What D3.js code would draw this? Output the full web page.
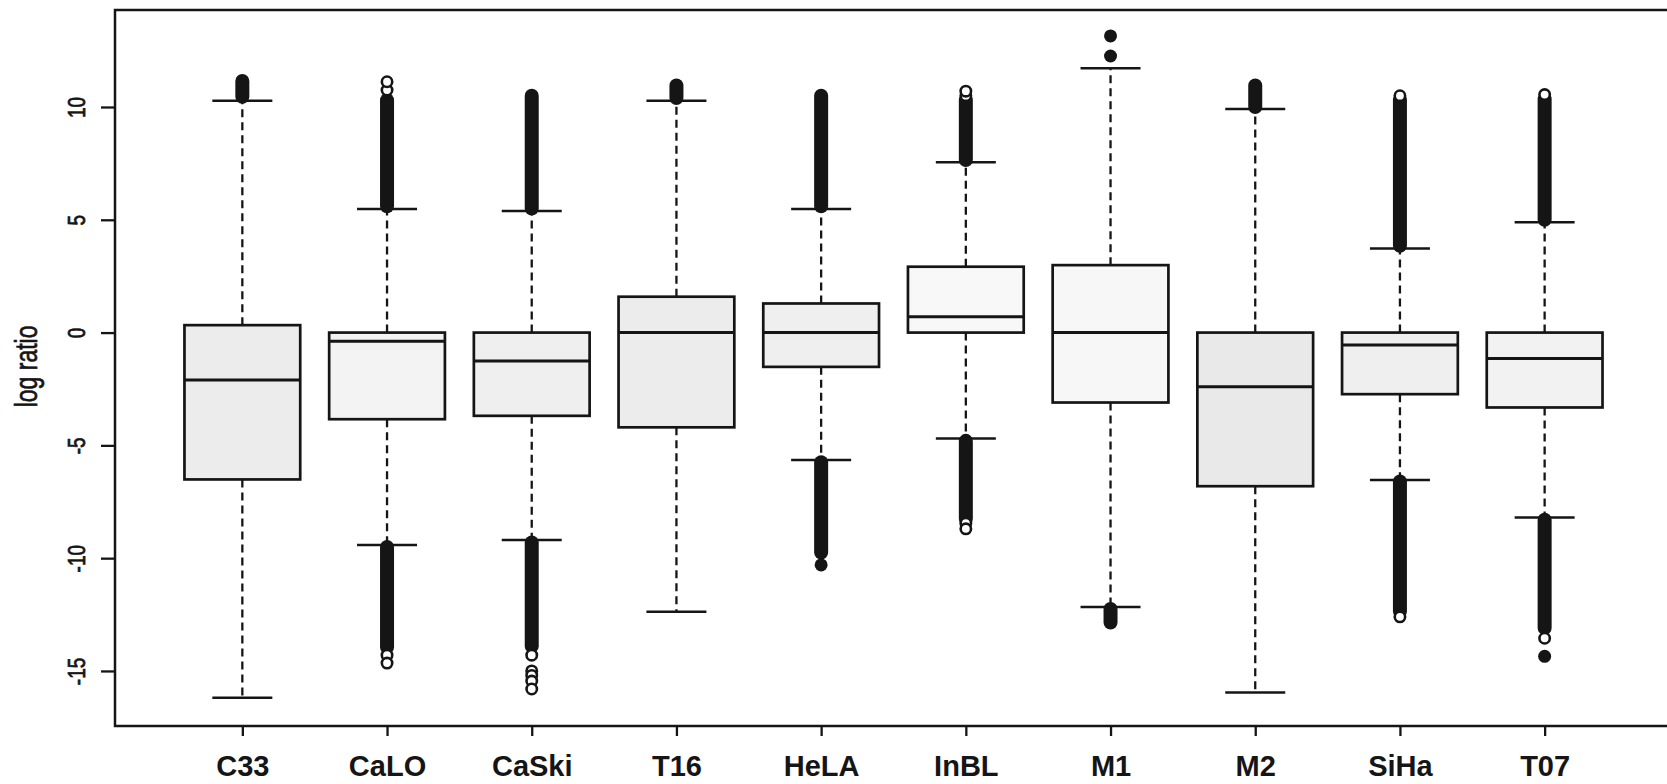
<!DOCTYPE html>
<html>
<head>
<meta charset="utf-8">
<script src="https://cdnjs.cloudflare.com/ajax/libs/d3/7.8.5/d3.min.js"></script>
<style>
  html, body { margin: 0; padding: 0; background: #fff; }
  svg { display: block; font-family: "Liberation Sans", Arial, sans-serif; }
</style>
</head>
<body>
<div id="chart"></div>
<script>
// cell lines and the five box statistics
const cellLines = ['C33', 'CaLO', 'CaSki', 'T16', 'HeLA', 'InBL', 'M1', 'M2', 'SiHa', 'T07'];
const lowerWhisker = [-16.19, -9.42, -9.2, -12.38, -5.65, -4.69, -12.16, -15.96, -6.54, -8.2];
const lowerHinge = [-6.51, -3.84, -3.69, -4.2, -1.52, 0, -3.1, -6.81, -2.73, -3.32];
const medians = [-2.1, -0.38, -1.26, 0, 0, 0.7, 0, -2.4, -0.55, -1.15];
const upperHinge = [0.33, 0, 0, 1.59, 1.29, 2.92, 2.99, 0, 0, 0];
const upperWhisker = [10.28, 5.48, 5.39, 10.28, 5.48, 7.55, 11.72, 9.91, 3.73, 4.89];

// outliers: dense runs (overlapping circles) as [from, to], then single circles
const outlierRuns = [
  [[10.45, 11.15]],
  [[5.6, 10.3], [-13.95, -9.5]],
  [[5.5, 10.5], [-13.9, -9.3]],
  [[10.4, 10.95]],
  [[5.6, 10.5], [-9.75, -5.75]],
  [[7.65, 10.3], [-8.25, -4.8]],
  [[-12.85, -12.25]],
  [[10.0, 10.95]],
  [[3.85, 10.3], [-12.35, -6.6]],
  [[5.0, 10.35], [-13.1, -8.3]]
];
const outlierPoints = [
  [],
  [10.75, 11.12, -14.3, -14.65],
  [-14.3, -15.0, -15.2, -15.45, -15.8],
  [],
  [],
  [10.5, 10.7, -8.45, -8.7],
  [],
  [],
  [10.5, -12.6],
  [10.55, -13.55]
];
const outlierDots = [
  [], [], [], [], [-10.3], [], [12.26, 13.15], [], [], [-14.35]
];

const yTicks = [-15, -10, -5, 0, 5, 10];
const yLabel = 'log ratio';

// box fill per cell line
const boxFills = ['#ececec', '#f3f3f3', '#efefef', '#ececec', '#efefef',
                  '#f8f8f8', '#f7f7f7', '#e9e9e9', '#efefef', '#f2f2f2'];

const W = 1667, H = 784;
const margin = {top: 10, left: 115, bottom: 58};
const step = 144.7;

const svg = d3.select('#chart').append('svg')
  .attr('width', W)
  .attr('height', H);

const x = d3.scaleLinear()
  .domain([0.12, 10.9])
  .range([margin.left, margin.left + 10.78 * step]);

const y = d3.scaleLinear()
  .domain([-17.44, 14.3])
  .range([H - margin.bottom, margin.top]);

const ink = '#151515';
const halfBox = 0.4 * step;
const halfCap = 30;

// frame
svg.append('rect')
  .attr('x', x(0.12))
  .attr('y', y(14.3))
  .attr('width', x(10.9) - x(0.12))
  .attr('height', y(-17.44) - y(14.3))
  .attr('fill', 'none')
  .attr('stroke', ink)
  .attr('stroke-width', 2.5);

const rows = cellLines.map((name, i) => ({
  name, i: i + 1,
  lo: lowerWhisker[i], q1: lowerHinge[i], med: medians[i], q3: upperHinge[i], hi: upperWhisker[i],
  runs: outlierRuns[i], pts: outlierPoints[i], dots: outlierDots[i], fill: boxFills[i]
}));

const g = svg.selectAll('g.box')
  .data(rows)
  .enter()
  .append('g')
  .attr('class', 'box');

// dashed whiskers
g.append('line')
  .attr('x1', d => x(d.i)).attr('x2', d => x(d.i))
  .attr('y1', d => y(d.q3)).attr('y2', d => y(d.hi))
  .attr('stroke', ink).attr('stroke-width', 2.3).attr('stroke-dasharray', '8,5');
g.append('line')
  .attr('x1', d => x(d.i)).attr('x2', d => x(d.i))
  .attr('y1', d => y(d.q1)).attr('y2', d => y(d.lo))
  .attr('stroke', ink).attr('stroke-width', 2.3).attr('stroke-dasharray', '8,5');

// caps
g.selectAll('line.cap')
  .data(d => [d.lo, d.hi].map(v => ({i: d.i, v})))
  .enter()
  .append('line')
  .attr('class', 'cap')
  .attr('x1', d => x(d.i) - halfCap).attr('x2', d => x(d.i) + halfCap)
  .attr('y1', d => y(d.v)).attr('y2', d => y(d.v))
  .attr('stroke', ink).attr('stroke-width', 2.5);

// dense outlier runs
g.selectAll('line.run')
  .data(d => d.runs.map(r => ({i: d.i, r})))
  .enter()
  .append('line')
  .attr('class', 'run')
  .attr('x1', d => x(d.i)).attr('x2', d => x(d.i))
  .attr('y1', d => y(d.r[0])).attr('y2', d => y(d.r[1]))
  .attr('stroke', ink).attr('stroke-width', 14).attr('stroke-linecap', 'round');

// single open circles
g.selectAll('circle.pt')
  .data(d => d.pts.map(v => ({i: d.i, v})))
  .enter()
  .append('circle')
  .attr('class', 'pt')
  .attr('cx', d => x(d.i)).attr('cy', d => y(d.v))
  .attr('r', 5.2)
  .attr('fill', '#fff').attr('stroke', ink).attr('stroke-width', 2.6);

// overplotted circles that read as solid dots
g.selectAll('circle.dot')
  .data(d => d.dots.map(v => ({i: d.i, v})))
  .enter()
  .append('circle')
  .attr('class', 'dot')
  .attr('cx', d => x(d.i)).attr('cy', d => y(d.v))
  .attr('r', 6.5)
  .attr('fill', ink);

// boxes
g.append('rect')
  .attr('x', d => x(d.i) - halfBox)
  .attr('y', d => y(d.q3))
  .attr('width', 2 * halfBox)
  .attr('height', d => y(d.q1) - y(d.q3))
  .attr('fill', d => d.fill)
  .attr('stroke', ink)
  .attr('stroke-width', 2.7);

// medians
g.append('line')
  .attr('x1', d => x(d.i) - halfBox).attr('x2', d => x(d.i) + halfBox)
  .attr('y1', d => y(d.med)).attr('y2', d => y(d.med))
  .attr('stroke', ink).attr('stroke-width', 3);

// y axis
const yAxis = svg.append('g')
  .attr('transform', `translate(${x(0.12)},0)`)
  .call(d3.axisLeft(y).tickValues(yTicks).tickSize(14).tickFormat(d3.format('d')));
yAxis.select('.domain').remove();
yAxis.selectAll('.tick line').attr('stroke', ink).attr('stroke-width', 2.3);
yAxis.selectAll('.tick text')
  .attr('x', null).attr('dy', '0.35em')
  .attr('text-anchor', 'middle')
  .attr('transform', 'translate(-39,0) scale(1.3,1) rotate(-90)')
  .attr('fill', ink)
  .attr('stroke', ink)
  .attr('stroke-width', 0.6)
  .style('font-size', '19px')
  .text(d => d < 0 ? '-' + Math.abs(d) : d);

svg.append('text')
  .attr('transform', `translate(36.5,${y(-1.5)}) scale(1.35,1) rotate(-90)`)
  .attr('text-anchor', 'middle')
  .attr('fill', ink)
  .attr('stroke', ink)
  .attr('stroke-width', 0.5)
  .style('font-size', '23px')
  .text(yLabel);

// x axis
const xAxis = svg.append('g')
  .attr('transform', `translate(0,${y(-17.44)})`)
  .call(d3.axisBottom(x).tickValues(d3.range(1, cellLines.length + 1)).tickSize(10)
    .tickFormat(d => cellLines[d - 1]));
xAxis.select('.domain').remove();
xAxis.selectAll('.tick line').attr('stroke', ink).attr('stroke-width', 2.3);
xAxis.selectAll('.tick text')
  .attr('y', 50).attr('dy', null)
  .attr('fill', ink)
  .style('font-size', '29px')
  .style('font-weight', 'bold');
</script>
</body>
</html>
